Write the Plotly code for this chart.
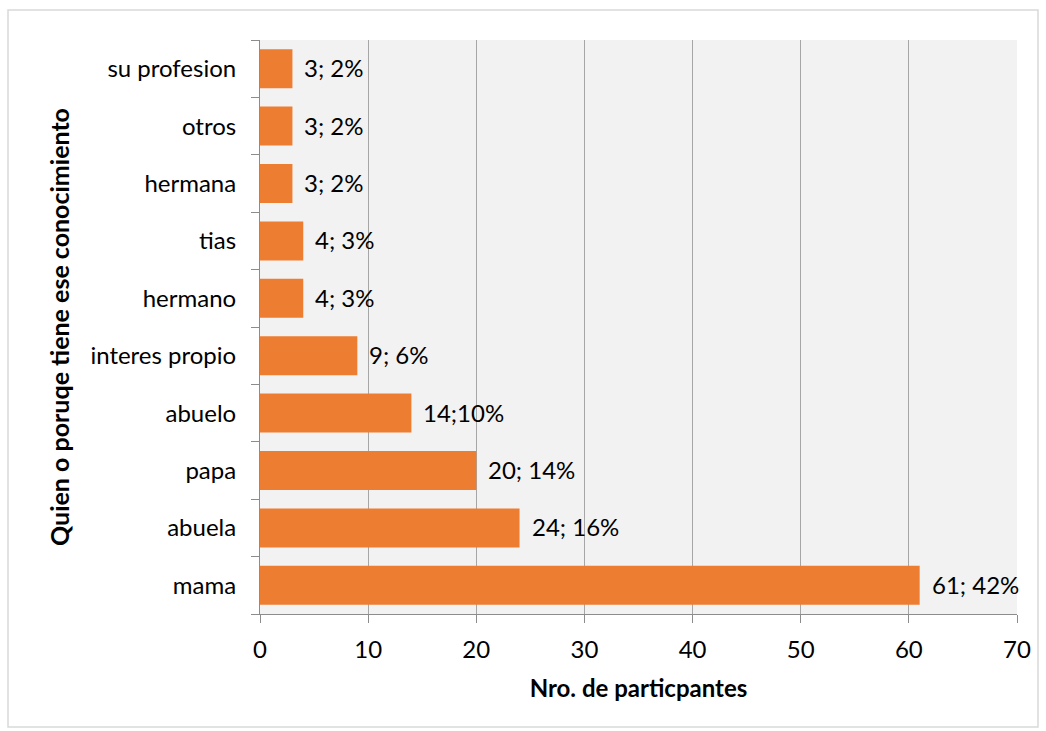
import plotly.graph_objects as go

categories = ["mama", "abuela", "papa", "abuelo", "interes propio",
              "hermano", "tias", "hermana", "otros", "su profesion"]
counts = [61, 24, 20, 14, 9, 4, 4, 3, 3, 3]
labels = ["61; 42%", "24; 16%", "20; 14%", "14;10%", "9; 6%",
          "4; 3%", "4; 3%", "3; 2%", "3; 2%", "3; 2%"]
x_ticks = [0, 10, 20, 30, 40, 50, 60, 70]

FONT = "Lato, Calibri, Carlito, sans-serif"
FS = 24

fig = go.Figure(go.Bar(
    y=categories, x=counts, orientation="h",
    marker=dict(color="#ED7D31", line=dict(width=0)),
    width=0.68,
))

# value labels just past the end of each bar
for c, v, t in zip(categories, counts, labels):
    fig.add_annotation(x=v, y=c, text=t, xref="x", yref="y", showarrow=False,
                       xanchor="left", xshift=10, yshift=1,
                       font=dict(family=FONT, size=FS, color="#000000"))

W, H = 1046, 731
L, R, T, B = 260, 29, 40, 117
pw, ph = W - L - R, H - T - B

def px_x(p):
    return (p - L) / pw

def px_y(p):
    return (H - B - p) / ph

fig.update_layout(
    width=W, height=H,
    margin=dict(l=L, r=R, t=T, b=B),
    paper_bgcolor="#FFFFFF", plot_bgcolor="#F2F2F2",
    font=dict(family=FONT, size=FS, color="#000000"),
    showlegend=False,
    xaxis=dict(
        range=[0, 70], tickvals=x_ticks, ticks="outside", ticklen=8,
        tickcolor="#8C8C8C", showgrid=True, gridcolor="#A6A6A6", gridwidth=1,
        showline=True, linecolor="#8C8C8C", zeroline=False,
        tickfont=dict(size=FS), ticklabelstandoff=6,
        title=dict(text="<b>Nro. de particpantes</b>", font=dict(size=24), standoff=18),
    ),
    yaxis=dict(
        categoryorder="array", categoryarray=categories,
        ticks="outside", ticklen=8, tickcolor="#8C8C8C", tickson="boundaries",
        showline=True, linecolor="#8C8C8C", showgrid=False,
        tickfont=dict(size=FS), ticklabelstandoff=18,
        range=[-0.5, 9.5],
        title=dict(text="<b>Quien o poruqe tiene ese conocimiento</b>", font=dict(size=25), standoff=13),
    ),
    shapes=[dict(
        type="rect", xref="paper", yref="paper",
        x0=px_x(8), x1=px_x(1038), y0=px_y(727), y1=px_y(10),
        line=dict(color="#D9D9D9", width=1.5), fillcolor="rgba(0,0,0,0)", layer="below",
    )],
)

fig.write_html("out.html")
